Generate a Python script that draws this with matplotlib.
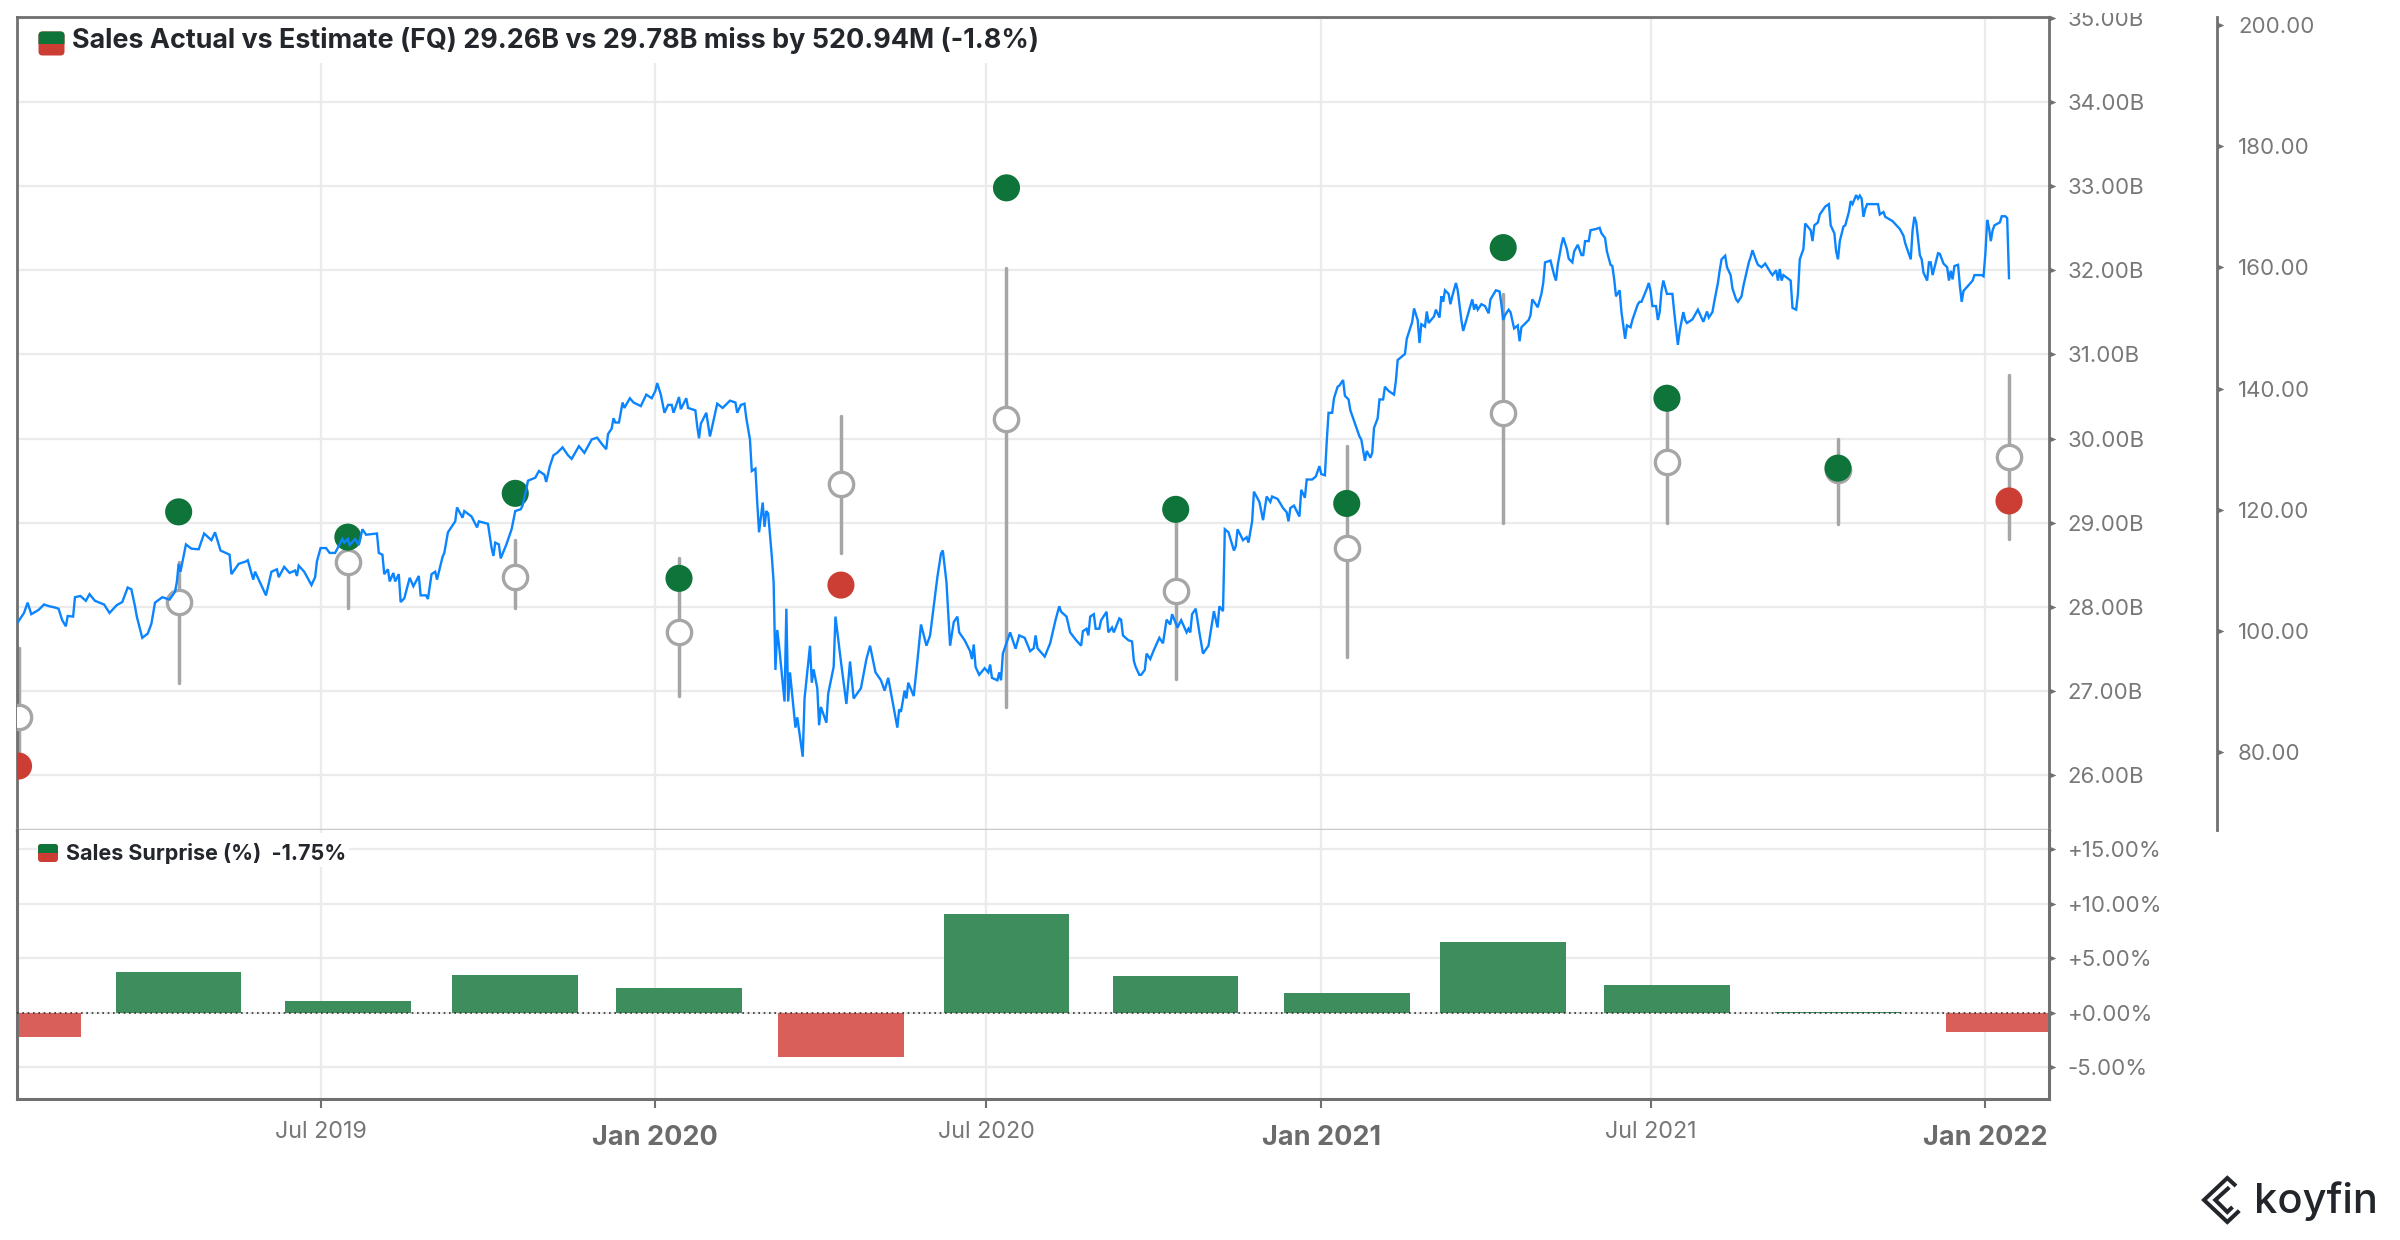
import numpy as np
import pandas as pd
import matplotlib
matplotlib.use("Agg")
import matplotlib.pyplot as plt
from matplotlib.patches import FancyBboxPatch, Rectangle
from matplotlib.path import Path
from matplotlib.transforms import Bbox, TransformedBbox, IdentityTransform
from matplotlib.lines import Line2D
from matplotlib.ticker import FuncFormatter

# ---------------- data ----------------
title_text = "Sales Actual vs Estimate (FQ) 29.26B vs 29.78B miss by 520.94M (-1.8%)"
surprise_text = "Sales Surprise (%)  -1.75%"

event_dates = ["2019-01-16", "2019-04-14", "2019-07-16", "2019-10-16", "2020-01-14",
               "2020-04-12", "2020-07-12", "2020-10-13", "2021-01-15", "2021-04-11",
               "2021-07-10", "2021-10-12", "2022-01-14"]
sales_actual = [26.11, 29.13, 28.83, 29.35, 28.34, 28.26, 32.98, 29.16, 29.23, 32.27, 30.48, 29.65, 29.26]
sales_estimate = [26.69, 28.06, 28.53, 28.36, 27.70, 29.46, 30.23, 28.19, 28.70, 30.31, 29.72, 29.63, 29.78]
estimate_high = [27.51, 28.53, 28.88, 28.80, 28.58, 30.27, 32.03, 29.30, 29.91, 31.72, 30.62, 30.00, 30.76]
estimate_low = [26.05, 27.10, 27.99, 27.99, 26.94, 28.64, 26.81, 27.15, 27.40, 29.00, 29.00, 28.99, 28.81]
surprise_pct = [-2.20, 3.78, 1.07, 3.45, 2.28, -4.10, 9.08, 3.38, 1.80, 6.46, 2.55, 0.07, -1.75]

# share price: (days after 2019-07-01, price)
price_ref_date = "2019-07-01"
price_series = [
    (-167, 101.2), (-163, 103.0), (-161, 104.7), (-159, 102.8), (-155, 103.5), (-152, 104.4),
    (-149, 104.1), (-146, 103.9), (-144, 103.7), (-142, 101.8), (-140, 100.8), (-139, 102.5),
    (-136, 102.4), (-135, 105.6), (-132, 105.8), (-129, 105.0), (-127, 106.1), (-124, 105.0),
    (-119, 104.4), (-116, 103.0), (-112, 104.3), (-109, 104.8), (-106, 107.2), (-104, 106.9),
    (-102, 104.1), (-101, 102.4), (-98, 98.9), (-95, 99.6), (-93, 101.2), (-91, 104.7),
    (-87, 105.6), (-83, 105.2), (-80, 106.5), (-79, 108.1), (-78, 111.1), (-77, 109.8),
    (-74, 114.3), (-71, 113.6), (-67, 113.5), (-64, 116.1), (-60, 115.0), (-58, 116.3),
    (-55, 113.3), (-50, 112.6), (-49, 109.4), (-45, 111.1), (-41, 111.5), (-40, 111.7),
    (-37, 108.5), (-36, 109.8), (-32, 107.2), (-30, 105.9), (-27, 109.8), (-24, 110.2),
    (-23, 108.9), (-20, 110.6), (-17, 109.6), (-14, 110.0), (-13, 109.1), (-12, 110.8),
    (-9, 109.8), (-5, 107.6), (-3, 108.9), (-2, 111.5), (0, 113.7), (3, 113.7),
    (5, 112.9), (8, 112.9), (12, 115.2), (13, 114.6), (15, 115.2), (16, 114.2),
    (19, 115.2), (21, 114.2), (23, 116.8), (25, 115.9), (31, 116.1), (32, 112.9),
    (34, 112.6), (35, 109.4), (37, 110.2), (38, 108.2), (40, 109.6), (41, 108.2),
    (43, 109.4), (44, 104.8), (46, 105.4), (49, 108.8), (51, 107.4), (54, 109.1),
    (55, 105.9), (58, 105.9), (59, 105.3), (61, 109.4), (63, 109.8), (64, 108.5),
    (67, 112.2), (68, 112.9), (70, 116.3), (74, 118.1), (75, 120.4), (78, 118.7),
    (79, 119.8), (83, 118.9), (86, 117.1), (87, 118.1), (92, 117.7), (94, 113.7),
    (95, 112.4), (96, 114.6), (98, 114.3), (99, 112.0), (102, 114.2), (105, 116.8),
    (107, 119.8), (110, 120.1), (111, 120.7), (113, 123.3), (114, 124.8), (118, 125.3),
    (120, 126.4), (123, 125.8), (124, 124.6), (126, 127.2), (128, 129.0), (130, 129.4),
    (133, 130.3), (136, 129.0), (138, 128.4), (142, 130.5), (145, 129.4), (147, 130.5),
    (149, 131.6), (152, 131.9), (155, 130.7), (157, 130.0), (158, 132.5), (160, 133.4),
    (161, 135.1), (162, 134.4), (164, 134.4), (166, 137.7), (167, 136.8), (170, 138.4),
    (172, 137.7), (176, 137.1), (179, 139.0), (182, 138.4), (184, 139.6), (185, 140.9),
    (187, 139.0), (189, 136.0), (191, 137.3), (193, 137.3), (194, 136.0), (197, 138.6),
    (198, 136.6), (201, 138.4), (202, 136.8), (206, 136.4), (207, 133.8), (208, 131.8),
    (209, 134.2), (212, 136.0), (214, 132.1), (215, 133.4), (218, 137.5), (221, 136.8),
    (225, 138.0), (228, 137.7), (229, 136.0), (231, 137.3), (233, 137.5), (234, 135.1),
    (236, 131.6), (237, 126.4), (239, 126.8), (240, 121.2), (241, 116.3), (243, 121.2),
    (244, 117.2), (245, 119.8), (246, 119.4), (248, 112.4), (249, 108.1), (250, 93.6),
    (251, 100.2), (252, 97.6), (255, 88.4), (256, 103.7), (257, 88.4), (258, 93.2),
    (261, 84.1), (262, 85.8), (265, 79.3), (266, 88.9), (269, 97.6), (270, 91.5),
    (271, 93.7), (273, 90.6), (274, 84.5), (275, 87.5), (278, 84.9), (279, 89.7),
    (282, 94.1), (283, 102.4), (286, 95.0), (289, 88.0), (291, 95.0), (293, 88.9),
    (297, 90.6), (300, 95.4), (302, 97.6), (305, 93.2), (308, 91.9), (310, 90.2),
    (312, 92.3), (317, 84.1), (318, 87.1), (319, 86.7), (321, 90.2), (322, 88.9),
    (323, 91.5), (326, 89.3), (328, 95.0), (330, 101.1), (333, 97.6), (335, 99.3),
    (337, 104.1), (339, 108.9), (341, 112.8), (342, 113.3), (344, 108.1), (345, 102.8),
    (346, 97.6), (348, 101.5), (350, 102.4), (351, 99.8), (354, 98.5), (357, 96.7),
    (358, 95.4), (359, 97.8), (360, 94.1), (362, 92.8), (365, 93.9), (367, 93.2),
    (368, 94.5), (369, 92.3), (372, 91.9), (373, 93.2), (374, 91.9), (375, 96.3),
    (379, 99.8), (381, 98.0), (382, 97.1), (384, 99.3), (387, 98.9), (390, 96.7),
    (392, 97.2), (393, 99.3), (394, 97.2), (398, 95.8), (401, 98.0), (404, 101.9),
    (406, 104.1), (407, 103.2), (410, 102.4), (412, 99.8), (415, 98.6), (418, 97.6),
    (419, 100.0), (421, 100.4), (422, 99.3), (423, 102.4), (425, 102.8), (426, 100.4),
    (428, 100.4), (429, 101.8), (432, 103.2), (433, 99.8), (435, 100.6), (436, 99.8),
    (439, 102.1), (440, 101.9), (441, 99.3), (444, 98.5), (446, 98.3), (447, 95.1),
    (448, 94.1), (450, 92.8), (451, 92.8), (453, 93.6), (454, 96.3), (456, 95.4),
    (458, 96.9), (461, 98.9), (463, 98.0), (465, 101.9), (467, 101.1), (468, 102.8),
    (471, 100.6), (473, 101.8), (476, 99.8), (477, 100.4), (478, 99.8), (479, 102.8),
    (481, 103.7), (483, 99.8), (485, 96.3), (488, 97.6), (491, 103.3), (493, 100.6),
    (494, 104.1), (496, 103.3), (497, 116.8), (499, 116.3), (502, 113.3), (503, 114.0),
    (504, 116.8), (507, 115.0), (509, 115.5), (510, 114.6), (512, 118.1), (513, 123.0),
    (516, 121.3), (518, 118.3), (520, 122.2), (522, 121.3), (523, 122.2), (526, 121.8),
    (529, 120.3), (531, 119.6), (532, 118.1), (533, 120.3), (535, 120.7), (538, 118.9),
    (539, 123.3), (541, 122.0), (542, 125.0), (545, 125.0), (547, 125.5), (549, 127.2),
    (550, 125.9), (552, 125.7), (553, 131.2), (554, 136.0), (556, 136.0), (557, 138.4),
    (559, 140.3), (560, 140.5), (562, 141.4), (563, 138.8), (565, 138.2), (566, 136.4),
    (569, 133.8), (571, 132.1), (572, 131.6), (574, 128.1), (575, 129.7), (577, 128.6),
    (578, 129.4), (579, 133.5), (581, 135.1), (582, 138.2), (584, 138.2), (585, 140.3),
    (587, 139.6), (590, 139.0), (591, 141.2), (592, 144.7), (596, 145.7), (597, 148.2),
    (600, 151.0), (601, 153.2), (603, 151.3), (604, 147.5), (605, 150.6), (607, 150.2),
    (608, 152.7), (609, 150.8), (612, 151.9), (613, 153.0), (615, 151.7), (616, 155.2),
    (617, 154.3), (618, 156.2), (620, 155.6), (621, 153.9), (622, 155.2), (624, 157.4),
    (625, 156.2), (627, 151.3), (628, 149.5), (631, 152.6), (633, 154.7), (634, 153.0),
    (635, 153.9), (636, 153.0), (638, 153.9), (640, 153.6), (642, 152.4), (643, 154.7),
    (646, 156.2), (648, 156.0), (649, 153.9), (650, 151.3), (651, 152.1), (653, 153.0),
    (654, 152.6), (656, 149.9), (658, 150.4), (659, 147.8), (660, 150.1), (664, 151.3),
    (665, 152.1), (666, 154.7), (669, 153.4), (671, 155.6), (672, 157.4), (673, 160.8),
    (676, 161.1), (678, 158.7), (679, 157.8), (680, 160.4), (682, 163.7), (683, 164.9),
    (685, 163.0), (686, 161.4), (688, 160.8), (689, 162.6), (691, 163.7), (693, 162.0),
    (694, 162.0), (695, 164.3), (697, 164.3), (698, 166.1), (701, 166.3), (703, 166.5),
    (704, 165.6), (706, 164.8), (707, 162.6), (709, 160.4), (710, 160.2), (711, 158.0),
    (712, 155.2), (714, 156.2), (715, 152.6), (717, 148.2), (718, 150.4), (720, 150.1),
    (721, 151.3), (724, 153.9), (725, 154.3), (726, 154.3), (729, 156.5), (730, 157.4),
    (731, 156.1), (732, 153.6), (734, 153.6), (735, 151.3), (736, 152.6), (737, 156.1),
    (738, 157.8), (740, 155.6), (743, 155.6), (744, 152.6), (746, 147.2), (747, 149.5),
    (749, 152.6), (750, 151.3), (751, 150.8), (754, 151.4), (757, 153.0), (760, 151.0),
    (762, 152.7), (763, 151.7), (765, 152.6), (766, 154.3), (768, 157.4), (769, 159.5),
    (770, 161.3), (772, 161.9), (773, 160.0), (775, 158.7), (776, 156.5), (778, 154.7),
    (779, 154.3), (781, 155.2), (782, 156.9), (783, 158.2), (785, 160.8), (786, 161.7),
    (787, 162.8), (789, 161.1), (790, 160.4), (792, 160.0), (794, 160.6), (797, 159.1),
    (798, 158.7), (800, 159.5), (801, 157.8), (802, 159.7), (803, 157.8), (804, 158.7),
    (808, 157.8), (809, 153.3), (811, 153.0), (812, 155.6), (813, 161.3), (815, 163.0),
    (816, 167.2), (819, 166.1), (820, 164.3), (821, 166.9), (823, 167.4), (824, 168.7),
    (827, 170.0), (829, 170.4), (830, 166.9), (832, 165.6), (833, 162.6), (834, 161.3),
    (835, 164.3), (837, 166.7), (838, 166.9), (840, 169.1), (841, 170.9), (842, 170.4),
    (844, 171.9), (845, 171.3), (846, 171.8), (847, 171.3), (848, 168.3), (849, 169.6),
    (850, 170.4), (854, 170.4), (856, 170.4), (857, 168.7), (859, 169.1), (860, 168.3),
    (864, 167.6), (868, 166.3), (870, 165.2), (871, 163.9), (874, 161.3), (875, 166.1),
    (876, 168.3), (877, 167.4), (879, 162.0), (880, 161.3), (881, 159.1), (883, 157.8),
    (884, 160.8), (885, 160.8), (886, 158.7), (889, 162.3), (890, 162.2), (892, 160.6),
    (894, 160.0), (895, 157.8), (896, 159.4), (897, 158.0), (898, 160.2), (900, 160.4),
    (901, 156.9), (902, 154.3), (903, 156.1), (906, 157.1), (908, 157.8), (909, 158.7),
    (913, 158.7), (914, 158.5), (915, 162.2), (916, 167.8), (917, 166.5), (918, 164.3),
    (919, 166.1), (920, 166.9), (923, 167.4), (924, 168.4), (926, 168.4), (927, 168.1),
    (928, 158.2),
]

x_tick_dates = ["2019-07-01", "2020-01-01", "2020-07-01", "2021-01-01", "2021-07-01", "2022-01-01"]
x_tick_labels = ["Jul 2019", "Jan 2020", "Jul 2020", "Jan 2021", "Jul 2021", "Jan 2022"]
sales_ticks = [26, 27, 28, 29, 30, 31, 32, 33, 34, 35]
price_ticks = [80, 100, 120, 140, 160, 180, 200]
surprise_ticks = [-5, 0, 5, 10, 15]

# ---------------- style ----------------
GREEN = "#0e743a"
RED = "#cc3e34"
BAR_GREEN = "#3d8e5c"
BAR_RED = "#d9605a"
GRAY_RANGE = "#a6a6a6"
BLUE = "#0a84ff"
GRID = "#ebebeb"
SPINE = "#707070"
TICKC = "#787878"
FONT = "Inter"

W, H = 2400, 1240
fig = plt.figure(figsize=(W / 100, H / 100), dpi=100)
fig.patch.set_facecolor("white")
ID = IdentityTransform()

L, R = 16.5, 2048.5
TOP, MID, BOT = 17, 830, 1099
ax = fig.add_axes([L / W, 1 - MID / H, (R - L) / W, (MID - TOP) / H])
axb = fig.add_axes([L / W, 1 - BOT / H, (R - L) / W, (BOT - MID) / H], sharex=ax)
ax2 = ax.twinx()

ev_dates = pd.to_datetime(event_dates)
ref = pd.Timestamp(price_ref_date)
p_days, p_vals = zip(*price_series)
p_dates = ref + pd.to_timedelta(np.array(p_days), unit="D")

xlim = (pd.Timestamp("2019-01-14 21:00"), pd.Timestamp("2022-02-04 17:00"))

# ---- main panel ----
ax.vlines(ev_dates, estimate_low, estimate_high, color=GRAY_RANGE, lw=2.5, zorder=2, capstyle="round")
ax.plot(ev_dates, sales_estimate, ls="none", marker="o", ms=17.5, mfc="white",
        mec=GRAY_RANGE, mew=2.4, zorder=3)
act_colors = [GREEN if a >= e else RED for a, e in zip(sales_actual, sales_estimate)]
ax.scatter(ev_dates, sales_actual, s=19.5 ** 2, c=act_colors, linewidths=0, zorder=4)
ax.set_ylim(25.35, 35.01)
ax.set_xlim(*xlim)
ax.set_yticks(sales_ticks)
ax.yaxis.set_major_formatter(FuncFormatter(lambda v, p: f"{v:.2f}B"))
ax.grid(True, color=GRID, lw=1.6)
ax.set_axisbelow(True)

ax2.plot(p_dates, p_vals, color=BLUE, lw=1.7, zorder=5, solid_joinstyle="miter")
ax2.set_ylim(67.22, 201.25)
ax2.set_yticks(price_ticks)
ax2.yaxis.set_major_formatter(FuncFormatter(lambda v, p: f"{v:.2f}"))
ax2.spines["right"].set_position(("axes", 1 + (2216.5 - R) / (R - L)))
for s in ["left", "top", "bottom"]:
    ax2.spines[s].set_visible(False)
ax2.spines["right"].set_color(SPINE)
ax2.spines["right"].set_linewidth(2)

for s in ["top", "left", "right"]:
    ax.spines[s].set_color(SPINE)
    ax.spines[s].set_linewidth(2)
ax.spines["bottom"].set_color("#c8c8c8")
ax.spines["bottom"].set_linewidth(2.5)
ax.tick_params(axis="x", length=0, labelbottom=False)

# ---- surprise panel ----
bar_colors = [BAR_GREEN if v >= 0 else BAR_RED for v in surprise_pct]
axb.bar(ev_dates, surprise_pct, width=69, color=bar_colors, zorder=2)
axb.axhline(0, color="#333333", lw=1.2, ls=(0, (1, 2.2)), zorder=3)
axb.set_ylim(-7.93, 16.79)
axb.set_yticks(surprise_ticks)
axb.yaxis.set_major_formatter(FuncFormatter(lambda v, p: f"{v:+.2f}%"))
axb.grid(True, color=GRID, lw=1.6)
axb.set_axisbelow(True)
axb.spines["top"].set_visible(False)
for s in ["left", "right", "bottom"]:
    axb.spines[s].set_color(SPINE)
    axb.spines[s].set_linewidth(2.2)
axb.set_xticks(pd.to_datetime(x_tick_dates))
axb.set_xticklabels(x_tick_labels)
axb.set_xlim(*xlim)
axb.tick_params(axis="x", direction="out", length=6.5, width=1.5, color=SPINE, pad=9.2)
for lab in axb.get_xticklabels():
    if lab.get_text().startswith("Jan"):
        lab.set_fontproperties({"family": FONT, "weight": "bold", "size": 19.5})
        lab.set_color("#6b6b6b")
        lab.set_y(-4.0 / (BOT - MID))
    else:
        lab.set_fontproperties({"family": FONT, "weight": "normal", "size": 16.8})
        lab.set_color("#777777")

# y ticks (right side, small triangles)
tri = Path([(0, -0.6), (1.4, 0), (0, 0.6), (0, -0.6)],
           [Path.MOVETO, Path.LINETO, Path.LINETO, Path.CLOSEPOLY])
clipbox = TransformedBbox(Bbox.from_extents(0, 0, 1, 1 - 13 / H), fig.transFigure)
for a, pad in [(ax, 3.7), (axb, 3.7), (ax2, 5.5)]:
    a.yaxis.tick_right()
    a.tick_params(axis="y", which="major", left=False, right=True, labelleft=False,
                  labelright=True, length=10, width=0, pad=pad, labelcolor=TICKC,
                  labelsize=16)
    for t in a.yaxis.get_major_ticks():
        t.tick2line.set_marker(tri)
        t.tick2line.set_markerfacecolor(SPINE)
        t.tick2line.set_markeredgecolor(SPINE)
        t.tick2line.set_markeredgewidth(0)
        t.label2.set_fontfamily(FONT)
        t.label2.set_clip_box(clipbox)
        t.label2.set_clip_on(True)

# ---- titles / legends ----
fig.add_artist(Rectangle((25, H - 63), 1040, 44, transform=ID, fc="white", ec="none", zorder=1.5))
fig.add_artist(Rectangle((37, H - 867), 312, 34, transform=ID, fc="white", ec="none", zorder=1.5))


def legend_square(x0, ytop, w, h, r):
    y0 = H - (ytop + h)
    red = FancyBboxPatch((x0, y0), w, h, boxstyle=f"round,pad=0,rounding_size={r}",
                         fc=RED, ec="none", transform=ID, zorder=6)
    green = FancyBboxPatch((x0, y0), w, h, boxstyle=f"round,pad=0,rounding_size={r}",
                           fc=GREEN, ec="none", transform=ID, zorder=6.5)
    clip = Rectangle((x0 - 2, y0 + h / 2), w + 4, h / 2 + 2, transform=ID)
    green.set_clip_path(clip)
    fig.add_artist(red)
    fig.add_artist(green)


legend_square(38.5, 31.5, 26, 24, 4)
legend_square(38, 844, 20, 18, 3.5)

fig.text(72, H - 48.5, title_text, transform=ID, family=FONT, weight="bold",
         fontsize=19.4, color="#23262b", va="baseline", ha="left", zorder=7)
fig.text(66, H - 860, surprise_text, transform=ID, family=FONT, weight="bold",
         fontsize=15.5, color="#23262b", va="baseline", ha="left", zorder=7)

# ---- koyfin logo ----
fig.text(2254, H - 1212.7, "koyfin", transform=ID, family=FONT, weight="medium",
         fontsize=30, color="#22262a", va="baseline", ha="left")
icon_outer = [(2236, 1186), (2227.3, 1178), (2204, 1200), (2227.3, 1222), (2239.3, 1210.7)]
icon_inner = [(2229.3, 1187.3), (2215.3, 1200), (2227.3, 1212), (2232.5, 1207)]
for pts in (icon_outer, icon_inner):
    xs = [p[0] for p in pts]
    ys = [H - p[1] for p in pts]
    fig.add_artist(Line2D(xs, ys, transform=ID, color="#22262a", lw=2.9,
                          solid_joinstyle="miter", solid_capstyle="butt"))

fig.savefig("out.png", dpi=100, facecolor="white")
